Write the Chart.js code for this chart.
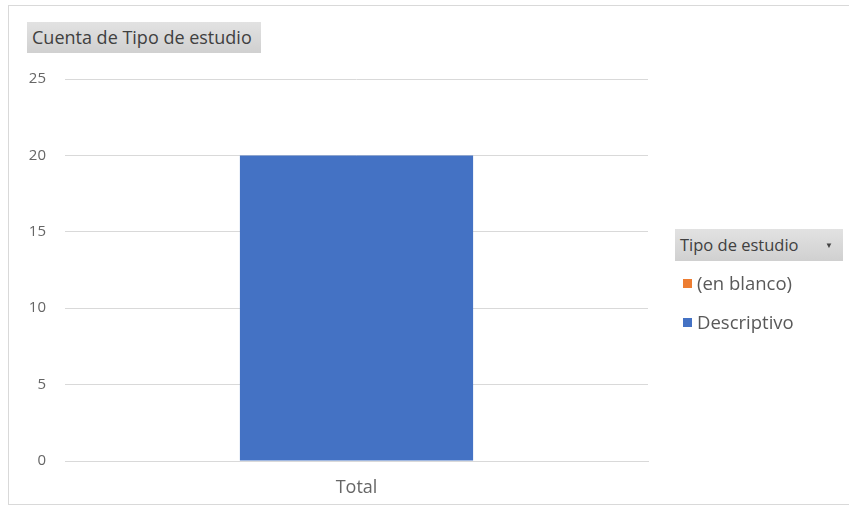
<!DOCTYPE html>
<html>
<head>
<meta charset="utf-8">
<script src="https://cdn.jsdelivr.net/npm/chart.js@4/dist/chart.umd.min.js"></script>
<style>
  html,body{margin:0;padding:0;background:#fff;}
  body{width:849px;height:513px;position:relative;overflow:hidden;font-family:"Open Sans",sans-serif;color:#595959;}
  .frame{position:absolute;left:8px;top:5px;width:850px;height:500px;border:1px solid #d9d9d9;box-sizing:border-box;}
  .wrap{position:absolute;left:0;top:0;width:849px;height:513px;}
  .fieldbtn{position:absolute;background:linear-gradient(#e2e2e2,#d0d0d0);color:#404040;line-height:31px;padding:0 0 0 5px;box-sizing:border-box;letter-spacing:0;white-space:nowrap;}
  #yfield{left:27px;top:22px;width:234px;height:31px;font-size:18px;}
  #lfield{left:675px;top:229px;width:168px;height:32px;font-size:16.5px;}
  #lfield .arrow{position:absolute;right:10px;top:0;font-size:8px;color:#444;}
  .legend{position:absolute;left:683px;top:268px;}
  .legend .item{height:39px;line-height:30px;font-size:18.5px;color:#595959;white-space:nowrap;}
  .legend .sw{display:inline-block;width:9px;height:9px;margin-right:5px;vertical-align:2px;}
</style>
</head>
<body>
<div class="frame"></div>
<div class="wrap"><canvas id="c" width="849" height="513"></canvas></div>
<div class="fieldbtn" id="yfield"></div>
<div class="fieldbtn" id="lfield"><span id="ltitle"></span><span class="arrow">&#9660;</span></div>
<div class="legend" id="legend"></div>
<script>
const categories = ['Total'];
const seriesNames = ['(en blanco)', 'Descriptivo'];
const seriesValues = [[null], [20]];
const seriesColors = ['#ed7d31', '#4472c4'];
const yTicks = [0, 5, 10, 15, 20, 25];
const yFieldLabel = 'Cuenta de Tipo de estudio';
const legendTitle = 'Tipo de estudio';

document.getElementById('yfield').textContent = yFieldLabel;
document.getElementById('ltitle').textContent = legendTitle;
document.getElementById('legend').innerHTML = seriesNames.map((n,i)=>
  `<div class="item"><span class="sw" style="background:${seriesColors[i]}"></span>${n}</div>`).join('');

new Chart(document.getElementById('c'), {
  type:'bar',
  data:{ labels: categories, datasets: seriesNames.map((n,i)=>({
    label:n, data:seriesValues[i], backgroundColor:seriesColors[i], borderWidth:0,
    categoryPercentage:0.4, barPercentage:1, skipNull:true
  }))},
  options:{
    responsive:false, animation:false,
    layout:{padding:{left:0, right:201, top:79, bottom:14}},
    plugins:{legend:{display:false}, tooltip:{enabled:false}},
    scales:{
      x:{
        grid:{display:false, drawTicks:false},
        border:{display:true, color:'#d9d9d9'},
        ticks:{color:'#666666', font:{family:'Open Sans', size:18}, padding:16},
        afterFit:s=>{ s.height = 38; }
      },
      y:{
        min:0, max:25,
        afterBuildTicks:s=>{ s.ticks = yTicks.map(v=>({value:v})); },
        grid:{color:'#d9d9d9', drawTicks:false},
        border:{display:false},
        ticks:{color:'#666666', font:{family:'Open Sans', size:15}, padding:19},
        afterFit:s=>{ s.width = 65; }
      }
    }
  }
});
</script>
</body>
</html>
